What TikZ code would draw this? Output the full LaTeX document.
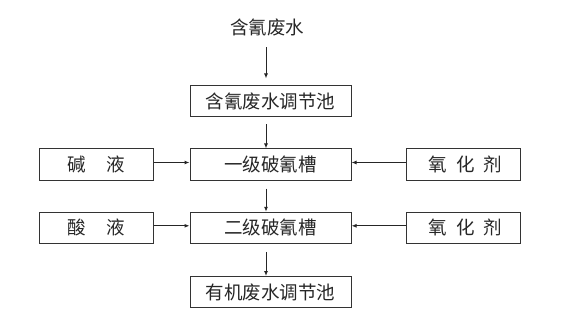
\documentclass[tikz,border=0pt]{standalone}
\usepackage{fontspec}
\newfontfamily\cjk{Noto Sans CJK SC}
\usetikzlibrary{arrows.meta,calc}
\begin{document}
\begin{tikzpicture}[x=1pt,y=1pt,
  box/.style={draw=black!80,line width=1pt,minimum height=31pt,inner sep=0pt,font=\cjk\fontsize{18.5}{20}\selectfont,text=black!85},
  midbox/.style={box,minimum width=161pt},
  sidebox/.style={box,minimum width=114pt},
  lbl/.style={inner sep=0pt,font=\cjk\fontsize{18.5}{20}\selectfont,text=black!85},
  arr/.style={draw=black!85,line width=1pt,-{Latex[length=5pt,width=4pt]}}]
\useasboundingbox (0,0) rectangle (562,319);
\node[lbl] (src) at (267,291.5) {含氰废水};
\node[midbox] (A) at (270.5,217.5) {含氰废水调节池};
\node[midbox] (B1) at (270.5,154.5) {一级破氰槽};
\node[midbox] (B2) at (270.5,91.2) {二级破氰槽};
\node[midbox] (C) at (270.5,27) {有机废水调节池};
\node[sidebox] (L1) at (96.2,154.5) {碱\hspace{20pt}液};
\node[sidebox] (L2) at (96.2,91.2) {酸\hspace{20pt}液};
\node[sidebox] (R1) at (463.3,154.5) {\hspace{4pt}氧\hspace{9pt}化\hspace{9pt}剂};
\node[sidebox] (R2) at (463.3,91.2) {\hspace{4pt}氧\hspace{9pt}化\hspace{9pt}剂};
\coordinate (ax) at (266,0);
\draw[arr] ($(src.south -| ax)+(0,-11)$) -- ($(A.north -| ax)+(0,7)$);
\draw[arr] ($(A.south -| ax)+(0,-7)$) -- (B1.north -| ax);
\draw[arr] ($(B1.south -| ax)+(0,-8)$) -- (B2.north -| ax);
\draw[arr] ($(B2.south -| ax)+(0,-8)$) -- (C.north -| ax);
\draw[arr] ($(L1.east)+(0,2)$) -- ($(B1.west)+(0,2)$);
\draw[arr] ($(L2.east)+(0,2)$) -- ($(B2.west)+(0,2)$);
\draw[arr] ($(R1.west)+(0,2)$) -- ($(B1.east)+(0,2)$);
\draw[arr] ($(R2.west)+(0,2)$) -- ($(B2.east)+(0,2)$);
\end{tikzpicture}
\end{document}
